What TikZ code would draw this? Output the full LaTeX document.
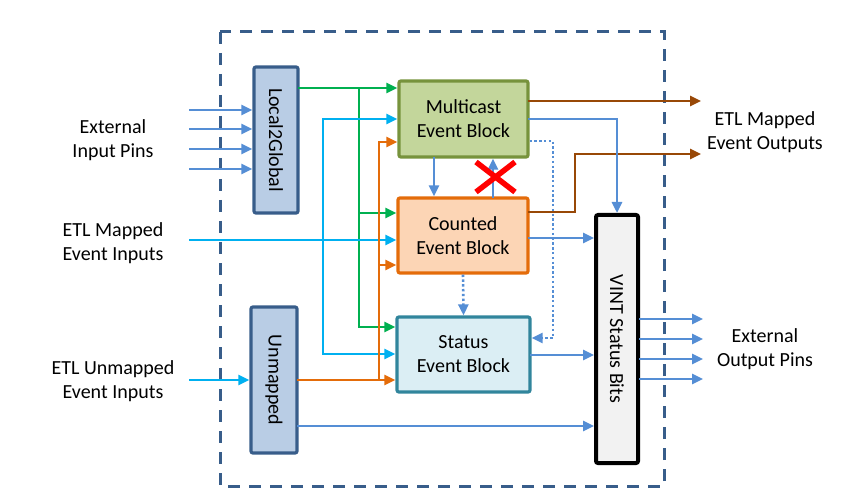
\documentclass[tikz,border=0pt]{standalone}
\usepackage{fontspec}
\setmainfont{Carlito}
\usepackage{xcolor}
\definecolor{framec}{HTML}{385D8A}
\definecolor{sidebg}{HTML}{B9CDE5}
\definecolor{mcastbg}{HTML}{C3D69B}
\definecolor{mcastln}{HTML}{77933C}
\definecolor{countbg}{HTML}{FCD5B5}
\definecolor{countln}{HTML}{E46C0A}
\definecolor{statbg}{HTML}{DBEEF4}
\definecolor{statln}{HTML}{31859C}
\definecolor{vintbg}{HTML}{F2F2F2}
\definecolor{grnc}{HTML}{00B050}
\definecolor{cync}{HTML}{00B0F0}
\definecolor{orgc}{HTML}{E46C0A}
\definecolor{brnc}{HTML}{984807}
\definecolor{bluc}{HTML}{558ED5}
\definecolor{crossc}{HTML}{FF0000}
\usetikzlibrary{arrows.meta, calc}

\begin{document}
\begin{tikzpicture}[
        x=1pt, y=-1pt,
        font=\fontsize{20}{24}\selectfont,
        >={Triangle[length=11pt, width=10pt]},
        block/.style={
            rectangle,
            rounded corners=2pt,
            line width=3.2pt,
            align=center,
            inner sep=0pt
        },
        sidebar/.style={
            block,
            draw=framec,
            fill=sidebg,
            rotate=-90
        },
        wire/.style={line width=2.6pt, line cap=rect, ->},
        grnwire/.style={wire, grnc},
        cynwire/.style={wire, cync},
        orgwire/.style={wire, orgc},
        brnwire/.style={wire, brnc},
        bluwire/.style={wire, bluc},
        dotwire/.style={bluwire, line cap=butt, dash pattern=on 2.4pt off 2.4pt}
    ]

    \useasboundingbox (0,0) rectangle (846,497);

    % Outer dashed boundary
    \draw[framec, line width=3pt, dash pattern=on 12pt off 9pt] (220,32) rectangle (664,486);

    % Blocks
    \node[sidebar, minimum width=146pt, minimum height=44pt] (l2g) at (276,140) {Local2Global};
    \node[sidebar, minimum width=146pt, minimum height=46pt] (unmap) at (274,380) {Unmapped};
    \node[block, draw=mcastln, fill=mcastbg, minimum width=129pt, minimum height=76pt] (mcast) at (463.5,119) {Multicast\\Event Block};
    \node[block, draw=countln, fill=countbg, minimum width=130pt, minimum height=75pt] (counted) at (463,235.5) {Counted\\Event Block};
    \node[block, draw=statln, fill=statbg, minimum width=133pt, minimum height=75pt] (status) at (463.5,354.5) {Status\\Event Block};
    \node[block, draw=black, fill=vintbg, line width=4pt, rotate=-90, minimum width=248pt, minimum height=42pt] (vint) at (617,339) {VINT Status Bits};

    % Outside labels
    \node[align=center] (inpins) at (113,140) {External\\Input Pins};
    \node[align=center] (etlmin) at (113,243) {ETL Mapped\\Event Inputs};
    \node[align=center] (etlunin) at (113,381) {ETL Unmapped\\Event Inputs};
    \node[align=center] (etlmout) at (765,132) {ETL Mapped\\Event Outputs};
    \node[align=center] (outpins) at (765,349) {External\\Output Pins};

    % Input pins into Local2Global
    \foreach \y in {110,129,149,169} {
        \coordinate (pin\y) at (190,\y);
        \draw[bluwire] (pin\y) -- (l2g.south |- pin\y);
    }

    % Green bus from Local2Global
    \coordinate (gjoin) at (359,88);
    \draw[grnwire] (l2g.north |- gjoin) -- (mcast.west |- gjoin);
    \draw[grnwire] (gjoin) |- (status.west |- 0,327);
    \draw[grnwire] (gjoin |- 0,213) -- (counted.west |- 0,213);

    % Cyan: mapped inputs
    \coordinate (etlin) at (190,240);
    \coordinate (cjoin) at (323,119);
    \draw[cynwire] (etlin) -- (counted.west |- etlin);
    \draw[cynwire] (cjoin) -- (mcast.west |- cjoin);
    \draw[cynwire] (cjoin) |- (status.west |- 0,354);

    % Cyan: unmapped inputs
    \coordinate (etlun) at (190,380);
    \draw[cynwire] (etlun) -- (unmap.south |- etlun);

    % Orange bus from Unmapped
    \coordinate (ojoin) at (379,380);
    \draw[orgwire] (unmap.north |- ojoin) -- (status.west |- ojoin);
    \draw[orgwire] (ojoin) |- (mcast.west |- 0,142);
    \draw[orgwire] (ojoin |- 0,265) -- (counted.west |- 0,265);

    % Brown: mapped event outputs
    \coordinate (mout) at (701,101);
    \coordinate (cout) at (701,154);
    \draw[brnwire] (mcast.east |- mout) -- (mout);
    \draw[brnwire] (counted.east |- 0,212) -- (575,212) |- (cout);

    % Blue links between blocks
    \draw[bluwire] (mcast.south -| 434,0) -- (counted.north -| 434,0);
    \draw[bluwire] (counted.north -| 493,0) -- (mcast.south -| 493,0);
    \draw[bluwire] (mcast.east |- 0,119) -| (vint.west);
    \draw[dotwire] (mcast.east |- 0,141) -- (553,141) |- (status.east |- 0,338);
    \draw[dotwire] (counted.south) -- (status.north);
    \draw[bluwire] (counted.east |- 0,238) -- (vint.south |- 0,238);
    \draw[bluwire] (status.east |- 0,355) -- (vint.south |- 0,355);
    \draw[bluwire] (unmap.north |- 0,426) -- (vint.south |- 0,426);

    % Blocked path
    \draw[crossc, line width=5.5pt] (476,162) -- (515,192) (476,192) -- (515,162);

    % Output pins
    \foreach \y in {319,339,359,379} {
        \coordinate (opin\y) at (703,\y);
        \draw[bluwire] (vint.north |- opin\y) -- (opin\y);
    }

\end{tikzpicture}
\end{document}
